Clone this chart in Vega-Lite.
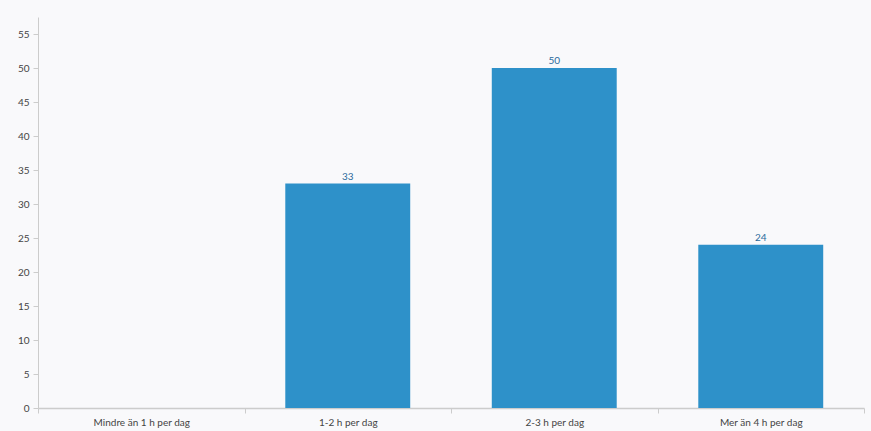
{
  "$schema": "https://vega.github.io/schema/vega-lite/v6.json",
  "width": 826,
  "height": 391,
  "autosize": {"type": "none"},
  "padding": {"left": 38, "top": 17, "right": 7, "bottom": 23},
  "background": "#f9f9fb",
  "config": {
    "view": {"stroke": null},
    "font": "Lato"
  },
  "data": {
    "values": [
      {"kategori": "Mindre än 1 h per dag", "antal": 0},
      {"kategori": "1-2 h per dag", "antal": 33},
      {"kategori": "2-3 h per dag", "antal": 50},
      {"kategori": "Mer än 4 h per dag", "antal": 24}
    ]
  },
  "encoding": {
    "x": {
      "field": "kategori",
      "type": "nominal",
      "sort": null,
      "scale": {"paddingInner": 0, "paddingOuter": 0},
      "axis": {
        "title": null,
        "labelAngle": 0,
        "labelFontSize": 10,
        "labelColor": "#444",
        "labelPadding": 4,
        "tickBand": "extent",
        "tickSize": 5,
        "tickColor": "#ccc",
        "domainColor": "#ccc",
        "domainWidth": 1.5,
        "grid": false
      }
    },
    "y": {
      "field": "antal",
      "type": "quantitative",
      "scale": {"domain": [0, 57.5], "nice": false},
      "axis": {
        "title": null,
        "values": [0, 5, 10, 15, 20, 25, 30, 35, 40, 45, 50, 55],
        "labelFontSize": 10,
        "labelColor": "#444",
        "labelPadding": 4,
        "tickSize": 5,
        "tickColor": "#ccc",
        "domainColor": "#ccc",
        "grid": false
      }
    }
  },
  "layer": [
    {
      "mark": {"type": "bar", "color": "#2e91c9", "width": {"band": 0.605}}
    },
    {
      "transform": [{"filter": "datum.antal > 0"}],
      "mark": {"type": "text", "dy": -7, "fontSize": 10, "color": "#2b6a9c"},
      "encoding": {"text": {"field": "antal", "type": "quantitative"}}
    }
  ]
}
